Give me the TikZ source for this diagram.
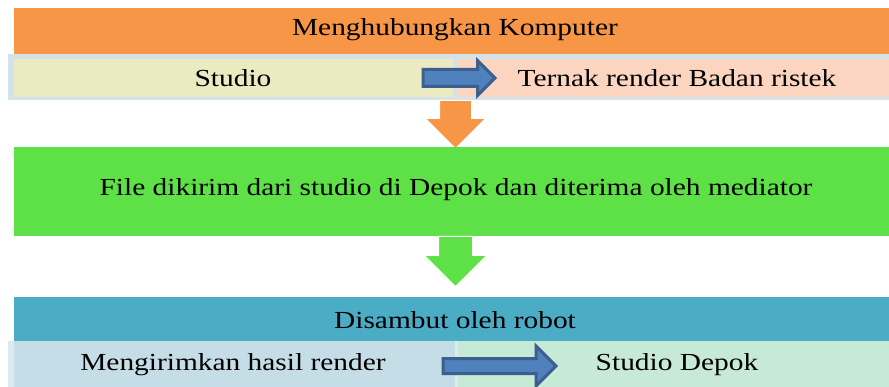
\documentclass[tikz,border=0pt]{standalone}
\usepackage{fontspec}
\setmainfont[FakeStretch=1.2]{Liberation Serif}
\usepackage{tikz}
\usetikzlibrary{shapes.arrows,positioning}

\definecolor{hdrorange}{HTML}{F79646}
\definecolor{hdrteal}{HTML}{4BACC6}
\definecolor{midgreen}{HTML}{5EE147}
\definecolor{cellyellow}{HTML}{EBEBC2}
\definecolor{cellpeach}{HTML}{FBD5C0}
\definecolor{cellblue}{HTML}{C5DDE6}
\definecolor{cellmint}{HTML}{C6EAD6}
\definecolor{rowedge}{HTML}{D3E3E9}
\definecolor{arrowdark}{HTML}{3C5F8F}
\definecolor{arrowfill}{HTML}{4F81BD}

\begin{document}
\begin{tikzpicture}[x=1pt,y=-1pt,
    lbl/.style={font=\fontsize{24.5}{29}\selectfont,inner sep=0pt},
    sidearrow/.style={single arrow,anchor=tail,draw=arrowdark,fill=arrowfill,
        line width=3pt,inner xsep=0pt,single arrow tip angle=90},
    downarrow/.style={single arrow,anchor=tail,rotate=-90,draw=white,line width=0.8pt,
        inner xsep=0pt,single arrow head extend=14pt,single arrow tip angle=90}]
    \useasboundingbox (0,0) rectangle (889,387);
    % first block: connecting computers
    \fill[hdrorange] (14,8) rectangle (889,54);
    \node[lbl] (konek) at (455,30) {Menghubungkan Komputer};
    \fill[rowedge] (8,54) rectangle (889,100);
    \fill[cellyellow] (14,59) rectangle (453,97);
    \fill[cellpeach] (458,59) rectangle (889,97);
    \node[lbl] (studio) at (233,78) {Studio};
    \node[lbl] (ternak) at (677,78) {Ternak render Badan ristek};
    \node[sidearrow,minimum height=72pt,inner ysep=7pt,
        single arrow head extend=9pt] (panah1) at (421.5,78) {};
    \node[downarrow,fill=hdrorange,minimum height=48pt,inner ysep=15.5pt]
        (turun1) at (455.5,100) {};
    % second block: file transfer
    \fill[midgreen] (14,147) rectangle (889,236);
    \node[lbl] (kirim) at (456,190)
        {File dikirim dari studio di Depok dan diterima oleh mediator};
    \node[downarrow,fill=midgreen,minimum height=50pt,inner ysep=16.5pt]
        (turun2) at (455.5,236) {};
    % third block: robot
    \fill[hdrteal] (14,297) rectangle (889,341);
    \node[lbl] (robot) at (455,320) {Disambut oleh robot};
    \fill[rowedge!80!white] (8,341) rectangle (889,387);
    \fill[cellblue] (14,341) rectangle (455,387);
    \fill[cellmint] (458,341) rectangle (889,387);
    \node[lbl] (hasil) at (233,365) {Mengirimkan hasil render};
    \node[lbl] (depok) at (677,365) {Studio Depok};
    \node[sidearrow,minimum height=113pt,inner ysep=6pt,
        single arrow head extend=12.5pt] (panah2) at (441.5,366) {};
\end{tikzpicture}
\end{document}
